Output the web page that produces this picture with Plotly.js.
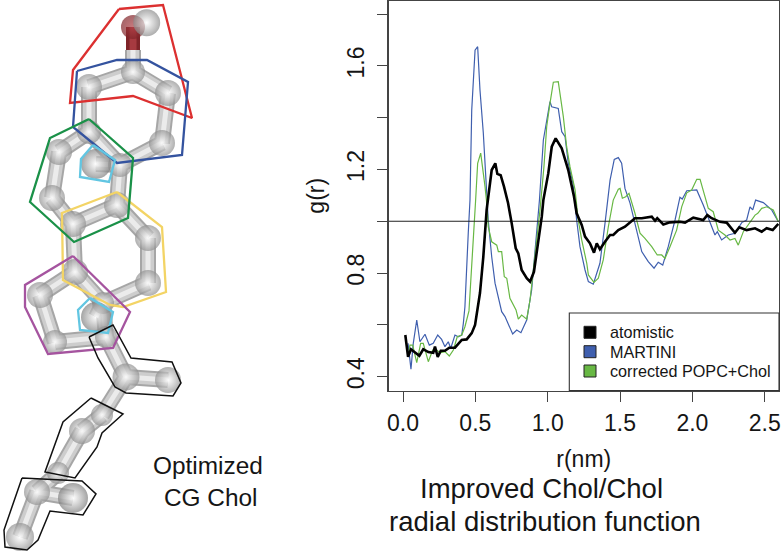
<!DOCTYPE html>
<html><head><meta charset="utf-8">
<script src="https://cdn.plot.ly/plotly-3.0.1.min.js"></script>
<style>html,body{margin:0;padding:0;background:#fff}#chart{width:781px;height:560px}</style>
</head><body><div id="chart"></div>
<script>
// ---- g(r) series (r in nm) ----
const blackR=[.016,.035,.055,.083,.113,.140,.175,.209,.221,.240,.261,.290,.320,.359,.406,.440,.475,.498,.511,.532,.555,.578,.613,.638,.652,.675,.698,.726,.751,.779,.797,.820,.855,.878,.905,.935,.959,.970,1.004,1.028,1.055,1.097,1.142,1.182,1.200,1.235,1.258,1.292,1.320,1.339,1.361,1.396,1.431,1.453,1.488,1.534,1.569,1.603,1.650,1.719,1.742,1.757,1.799,1.845,1.914,1.949,2.006,2.075,2.103,2.133,2.191,2.237,2.294,2.324,2.375,2.433,2.479,2.513,2.555,2.594];
const blackG=[.561,.477,.506,.493,.481,.506,.495,.492,.516,.476,.500,.500,.512,.512,.542,.544,.568,.600,.646,.723,.863,1.044,1.198,1.224,1.183,1.178,1.134,1.071,.993,.896,.876,.812,.780,.767,.805,.916,1.018,1.082,1.185,1.288,1.320,1.282,1.198,1.095,1.031,.986,.941,.915,.879,.915,.892,.921,.947,.947,.966,.979,.995,1.012,1.012,1.018,1.002,1.012,.988,.996,.998,.995,1.014,1.005,1.024,1.012,.998,.995,.956,.977,.966,.973,.960,.973,.966,.990];
const martiniR=[.035,.055,.071,.095,.117,.152,.182,.209,.240,.267,.290,.313,.330,.359,.382,.406,.417,.428,.451,.463,.475,.498,.516,.532,.555,.574,.589,.613,.636,.682,.705,.758,.786,.815,.855,.889,.924,.943,.970,1.016,1.028,1.073,1.097,1.120,1.142,1.175,1.200,1.223,1.258,1.281,1.315,1.361,1.396,1.431,1.460,1.488,1.511,1.534,1.569,1.615,1.650,1.695,1.735,1.764,1.795,1.833,1.880,1.914,1.930,1.961,2.030,2.075,2.122,2.156,2.172,2.202,2.248,2.294,2.341,2.375,2.398,2.417,2.437,2.490,2.548,2.594];
const martiniG=[.529,.429,.529,.619,.535,.564,.522,.529,.561,.544,.516,.535,.510,.561,.554,.561,.606,.670,.955,1.082,1.430,1.661,1.674,1.507,1.341,1.160,1.005,.863,.761,.651,.632,.565,.580,.570,.619,.735,.966,1.082,1.314,1.462,1.442,1.436,1.346,1.327,1.225,1.147,1.005,.902,.812,.767,.757,.838,.992,1.159,1.239,1.246,1.224,1.127,1.070,.966,.883,.844,.819,.842,.831,.902,1.005,1.093,1.086,1.118,1.121,1.063,.998,.947,.960,.928,.947,.954,.995,1.005,1.056,1.044,1.082,1.072,1.044,.998];
const correctedR=[.035,.048,.067,.095,.122,.140,.175,.205,.233,.256,.290,.320,.348,.375,.406,.428,.456,.486,.502,.516,.537,.567,.580,.589,.613,.648,.659,.682,.700,.717,.739,.781,.797,.820,.855,.878,.912,.947,.974,.993,1.016,1.039,1.073,1.108,1.131,1.154,1.189,1.211,1.235,1.270,1.281,1.320,1.350,1.384,1.419,1.453,1.488,1.500,1.516,1.539,1.562,1.603,1.638,1.672,1.719,1.757,1.788,1.811,1.845,1.891,1.926,1.961,1.995,2.030,2.053,2.087,2.110,2.144,2.179,2.225,2.260,2.294,2.317,2.352,2.398,2.433,2.452,2.479,2.513,2.559,2.594];
const correctedG=[.477,.522,.522,.454,.529,.529,.458,.503,.503,.492,.497,.480,.503,.554,.561,.593,.654,.916,1.082,1.224,1.263,1.134,1.063,.979,.921,.908,.883,.883,.786,.780,.703,.658,.622,.638,.622,.696,.863,1.044,1.211,1.365,1.456,1.537,1.539,1.404,1.288,1.211,1.121,1.005,.928,.838,.793,.764,.780,.851,.979,1.082,1.124,1.127,1.089,1.095,1.108,1.031,.954,.934,.902,.870,.870,.857,.902,.966,1.056,1.110,1.121,1.162,1.162,1.095,1.050,1.037,.966,.947,.928,.934,.908,.960,.998,1.024,1.031,1.050,1.056,1.044,.998];
const referenceR=[-0.1,2.6];
const referenceG=[1,1];
const xTickVals=[0,0.5,1,1.5,2,2.5];
const xTickText=['0.0','0.5','1.0','1.5','2.0','2.5'];
const yTickVals=[0.4,0.6,0.8,1.0,1.2,1.4,1.6,1.8];
const yTickText=['0.4','','0.8','','1.2','','1.6',''];
const legendLabels=['atomistic','MARTINI','corrected POPC+Chol'];
const legendColors=['#000000','#3f5fae','#68b844'];

// ---- molecule model: atoms, bonds, selection outlines ----
const atomX=[133,89,168,162,120,89,59,52,73,117,148,148,75,40,55,103,106,126,168,102,82,58,37,20];
const atomY=[72,87,93,143,165,132,152,198,224,205,238,283,272,295,342,303,337,377,380,415,431,473,492,537];
const atomD=[24,26,26,26,24,24,26,26,26,26,26,26,26,26,24,22,22,27,26,22,26,22,26,28];
const methylX=[96,96,73];
const methylY=[164,317,498];
const methylD=[30,30,30];
const hydrogenX=[146.7];
const hydrogenY=[22.7];
const hydrogenD=[27];
const oxygenX=[133];
const oxygenY=[27];
const oxygenD=[24];
const oBondX=[133,133];
const oBondY=[27,50];
const bondX=[133,133,null,133,89,null,133,168,null,168,162,null,162,120,null,120,89,null,89,89,null,89,59,null,59,52,null,52,73,null,73,117,null,117,120,null,117,148,null,148,148,null,148,103,null,103,75,null,75,73,null,75,40,null,40,55,null,55,106,null,103,106,null,106,126,null,126,168,null,126,102,null,102,82,null,82,58,null,58,37,null,37,73,null,37,20,null,120,96,null,103,96];
const bondY=[50,72,null,72,87,null,72,93,null,93,143,null,143,165,null,165,132,null,87,132,null,132,152,null,152,198,null,198,224,null,224,205,null,205,165,null,205,238,null,238,283,null,283,303,null,303,272,null,272,224,null,272,295,null,295,342,null,342,337,null,303,337,null,337,377,null,377,380,null,377,415,null,415,431,null,431,473,null,473,492,null,492,498,null,492,537,null,165,164,null,303,317];
const redBeadX=[119,163,192,133,70,73,119];
const redBeadY=[9,5,118,96,103,70,9];
const blueBeadX=[77,117,147,188,182,117,73,77];
const blueBeadY=[71,60,60,82,155,163,127,71];
const cyanBeadAX=[93,115,109,80,81,93];
const cyanBeadAY=[145,160,182,177,159,145];
const greenBeadX=[89,133,128,74,30,50,89];
const greenBeadY=[119,158,218,242,202,138,119];
const yellowBeadX=[117,162,166,123,110,63,62,117];
const yellowBeadY=[192,227,292,307,305,280,213,192];
const purpleBeadX=[73,130,113,48,25,25,73];
const purpleBeadY=[256,312,348,354,307,285,256];
const cyanBeadBX=[90,113,108,80,78,90];
const cyanBeadBY=[298,312,333,330,310,298];
const tailBeadAX=[89,113,131,172,181,173,126,115,98,89];
const tailBeadAY=[337,325,358,362,383,396,393,387,358,337];
const tailBeadBX=[91,123,102,97,75,45,63,91];
const tailBeadBY=[398,414,433,447,478,472,422,398];
const tailBeadCX=[22,82,96,83,50,38,27,5,4,22];
const tailBeadCY=[478,481,494,515,511,540,550,547,530,478];

const onMain={xaxis:'x',yaxis:'y',mode:'lines',hoverinfo:'skip',showlegend:false};
const onPage={xaxis:'x2',yaxis:'y2',hoverinfo:'skip',showlegend:false};
const outline=(x,y,color,w)=>Object.assign({x,y,mode:'lines',line:{color,width:w,shape:'linear'}},onPage);
const bondLayer=(x,y,color,w)=>Object.assign({x,y,mode:'lines',line:{color,width:w}},onPage);
const ball=(x,y,d,edge,core)=>Object.assign({x,y,mode:'markers',marker:{size:d,color:edge,line:{width:0},gradient:{type:'radial',color:core}}},onPage);

const traces=[
  Object.assign({x:martiniR,y:martiniG,line:{color:legendColors[1],width:1.2},name:legendLabels[1]},onMain),
  Object.assign({x:correctedR,y:correctedG,line:{color:legendColors[2],width:1.2},name:legendLabels[2]},onMain),
  Object.assign({x:referenceR,y:referenceG,line:{color:'#222',width:1.1}},onMain),
  Object.assign({x:blackR,y:blackG,line:{color:legendColors[0],width:2.6},name:legendLabels[0]},onMain),
  bondLayer(oBondX,oBondY,'#7f2429',14),
  bondLayer(oBondX,oBondY,'#a63a40',7),
  ball(oxygenX,oxygenY,oxygenD,'#7f2429','#b03f45'),
  bondLayer(bondX,bondY,'#a6a6a6',16),
  bondLayer(bondX,bondY,'#cdcdcd',12),
  bondLayer(bondX,bondY,'#ebebeb',5),
  ball(atomX,atomY,atomD,'#8f8f8f','#ffffff'),
  ball(methylX,methylY,methylD,'#7d7d7d','#ffffff'),
  ball(hydrogenX,hydrogenY,hydrogenD,'#8a8a8a','#ffffff'),
  outline(redBeadX,redBeadY,'#dc3030',2.3),
  outline(blueBeadX,blueBeadY,'#34539f',2.3),
  outline(yellowBeadX,yellowBeadY,'#f3d465',2.3),
  outline(greenBeadX,greenBeadY,'#1a9148',2.3),
  outline(purpleBeadX,purpleBeadY,'#a5549f',2.3),
  outline(cyanBeadAX,cyanBeadAY,'#62c6e2',2.3),
  outline(cyanBeadBX,cyanBeadBY,'#62c6e2',2.3),
  outline(tailBeadAX,tailBeadAY,'#111',1.5),
  outline(tailBeadBX,tailBeadBY,'#111',1.5),
  outline(tailBeadCX,tailBeadCY,'#111',1.5),
  Object.assign({x:[590,590,590],y:[332.3,351.7,371],mode:'markers',
    marker:{symbol:'square',size:12,color:legendColors,line:{color:'#222',width:1}}},onPage)
];

const W=781,H=560,font='"Liberation Sans",Arial,Helvetica,sans-serif',ink='#151515';
const note=(text,x,y,size,anchor)=>({text,x,y,xref:'x2',yref:'y2',showarrow:false,xanchor:anchor||'center',yanchor:'middle',
  font:{family:font,size,color:ink},borderpad:0,borderwidth:0});
const axisCommon={showgrid:false,zeroline:false,showline:true,linecolor:'#444',linewidth:1.3,mirror:true,
  ticks:'outside',ticklen:10,tickwidth:1,tickcolor:'#444',tickfont:{family:font,size:23,color:ink}};
const layout={
  width:W,height:H,margin:{l:0,r:0,t:0,b:0,pad:0},paper_bgcolor:'#fff',plot_bgcolor:'rgba(0,0,0,0)',
  showlegend:false,hovermode:false,
  font:{family:font,color:ink},
  xaxis:Object.assign({},axisCommon,{domain:[388.5/W,779/W],range:[-0.1002,2.5985],tickmode:'array',tickvals:xTickVals,ticktext:xTickText,
    anchor:'y',ticklabelstandoff:2,title:{text:'r(nm)',font:{family:font,size:23,color:ink},standoff:15}}),
  yaxis:Object.assign({},axisCommon,{domain:[1-390.5/H,1-1/H],range:[0.3467,1.8506],tickmode:'array',tickvals:yTickVals,ticktext:yTickText,
    tickangle:-90,anchor:'x',ticklabelstandoff:4,title:{text:'g(r)',font:{family:font,size:23,color:ink},standoff:12}}),
  xaxis2:{domain:[0,1],range:[0,W],visible:false,anchor:'y2',fixedrange:true},
  yaxis2:{domain:[0,1],range:[H,0],visible:false,anchor:'x2',fixedrange:true},
  shapes:[{type:'rect',xref:'x2',yref:'y2',x0:569.3,x1:779,y0:313,y1:390.5,line:{color:'#333',width:1.1},fillcolor:'rgba(0,0,0,0)',layer:'above'}],
  annotations:[
    note(legendLabels[0],610,332.3,16.2,'left'),
    note(legendLabels[1],610,351.7,16.2,'left'),
    note(legendLabels[2],610,371,16.2,'left'),
    note('Improved Chol/Chol',541,488,27.5),
    note('radial distribution function',544.5,521,27.5),
    note('Optimized',207.7,465,24.4),
    note('CG Chol',211,497,24.4)
  ]
};
Plotly.newPlot('chart',traces,layout,{staticPlot:true,displayModeBar:false});
</script></body></html>
